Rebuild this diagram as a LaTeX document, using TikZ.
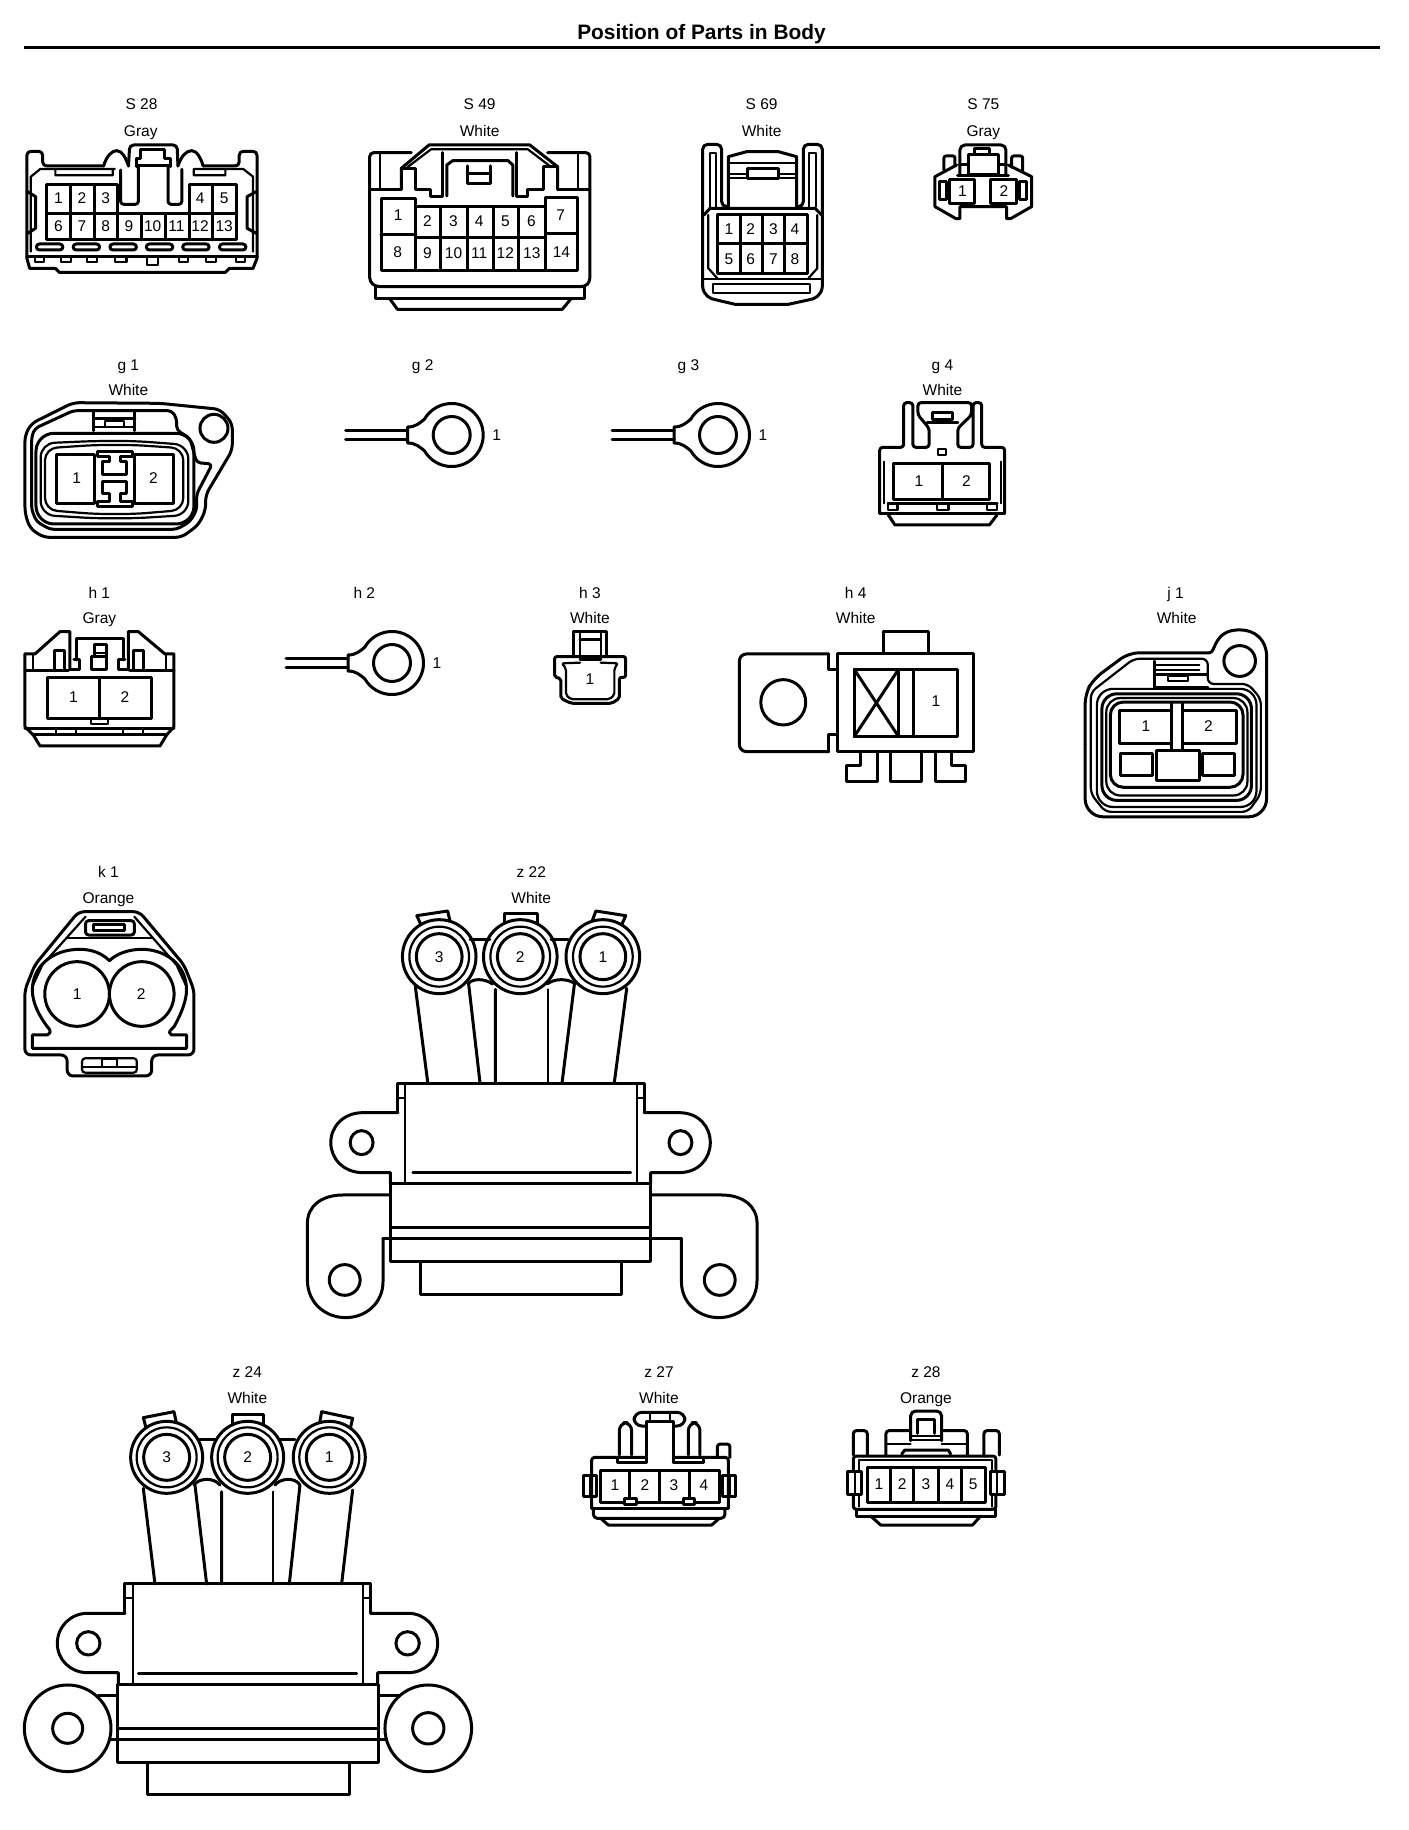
\documentclass[tikz,border=0pt]{standalone}
\usepackage{fontspec}
\setmainfont{Liberation Sans}

\tikzset{
  ln/.style={line width=3pt, line join=round, line cap=round},
  lnt/.style={line width=2.2pt, line join=round, line cap=round},
  lbl/.style={font=\fontsize{15.5}{18}\selectfont, inner sep=0pt, text height=11.2pt, text depth=0pt},
  pin/.style={font=\fontsize{15.5}{18}\selectfont, inner sep=0pt, text height=11.2pt, text depth=0pt},
  % one unit of each group is one pixel of its working sheet
  groupa/.style={shift={(0pt,-60pt)},   x=0.3954pt, y=-0.3333pt},
  groupb/.style={shift={(660pt,-60pt)}, x=0.3333pt, y=-0.3333pt},
  groupc/.style={shift={(0pt,-340pt)},  x=0.3333pt, y=-0.3333pt},
  groupd/.style={shift={(520pt,-340pt)},x=0.5102pt, y=-0.3333pt},
  groupe/.style={shift={(0pt,-850pt)},  x=0.4974pt, y=-0.3333pt},
  groupf/.style={shift={(0pt,-1350pt)}, x=0.3333pt, y=-0.3333pt},
  groupg/.style={shift={(560pt,-1350pt)},x=0.3333pt, y=-0.3333pt},
  groupj/.style={shift={(1070pt,-620pt)},x=0.336pt, y=-0.328pt},
}

\begin{document}
\begin{tikzpicture}

\useasboundingbox (0pt,0pt) rectangle (1408pt,-1830pt);

% Heading
\node (heading) [font=\fontsize{20.9}{24}\selectfont\bfseries, inner sep=0pt] at (701.5pt,-34.5pt) {Position of Parts in Body};
\coordinate (ruleL) at (24pt,-47.5pt);
\coordinate (ruleR) at (1380pt,-47.5pt);
\draw [line width=3.4pt] (ruleL) -- (ruleR);

\begin{scope}[groupa]
% S 28
\node (s28id) [lbl] at (358,132) {S 28};
\node (s28col) [lbl] at (356,212) {Gray};
\draw [ln, rounded corners=4pt] (68,595) -- (68,274) -- (108,274) -- (108,318) -- (262,318);
\draw [ln] (262,318) .. controls (270,285) and (285,272) .. (295,272) .. controls (310,272) and (318,295) .. (325,318);
\draw [ln, rounded corners=4pt] (325,318) -- (328,255) -- (448,255) -- (450,318);
\draw [ln] (450,318) .. controls (458,290) and (470,272) .. (485,272) .. controls (498,272) and (508,295) .. (514,318);
\draw [ln, rounded corners=4pt] (514,318) -- (605,318) -- (605,274) -- (650,274) -- (650,595);
\draw [lnt] (78,575) -- (78,350) -- (102,327) -- (140,327) (290,327) -- (140,327) -- (140,346) -- (285,346) -- (285,327);
\draw [lnt] (640,575) -- (640,350) -- (615,327) -- (490,327) -- (490,346) -- (570,346) -- (570,327);
\draw [ln] (345,320) -- (345,297) -- (355,297) -- (355,270) -- (415,270) -- (415,297) -- (430,297) -- (430,320);
\draw [ln, rounded corners=3pt] (305,330) -- (305,433) -- (350,433) -- (350,318);
\draw [ln, rounded corners=3pt] (425,318) -- (425,433) -- (460,433) -- (460,328);
\draw [ln] (345,318) -- (430,318);
\draw [ln] (298,460) -- (298,375) -- (118,375) -- (118,540) -- (597,540) -- (597,375) -- (478,375) -- (478,460);
\draw [ln] (118,460) -- (597,460);
\foreach \x in {178,238} \draw [ln] (\x,375) -- (\x,540);
\foreach \x in {298,358,418} \draw [ln] (\x,460) -- (\x,540);
\foreach \x in {478,538} \draw [ln] (\x,375) -- (\x,540);
\foreach \n/\x/\y in {1/148/413,2/207/413,3/267/413,4/506/413,5/567/413,6/148/497,7/207/497,8/267/497,9/326/497,10/386/497,11/446/497,12/506/497,13/567/497}
  \node (s28p\n) [pin] at (\x,\y) {\n};
\foreach \x in {92,185,278,370,462,555}
  \draw [ln, rounded corners=3pt] (\x,552) rectangle (\x+67,570);
\draw [ln] (70,395) -- (90,410) -- (90,505) -- (70,520);
\draw [ln] (648,395) -- (625,410) -- (625,505) -- (648,520);
\draw [ln] (68,590) -- (650,590);
\draw [ln] (68,595) -- (75,625) -- (140,625) -- (150,637) -- (570,637) -- (580,625) -- (640,625) -- (650,595);
\foreach \x/\w in {88/24,155/25,220/25,290/30,452/23,520/27,597/23}
  \draw [lnt] (\x,592) rectangle (\x+\w,607);
\draw [lnt] (372,592) rectangle (400,615);

% S 49
\node (s49id) [lbl] at (1213,132) {S 49};
\node (s49col) [lbl] at (1213,212) {White};
\draw [ln, rounded corners=4pt] (1040,278) -- (935,278) -- (935,665) -- (950,680) -- (1480,680) -- (1492,665) -- (1492,278) -- (1385,278);
\draw [ln] (1015,388) -- (1015,325) -- (1085,255) -- (1340,255) -- (1410,320) -- (1410,388);
\draw [lnt] (1030,322) -- (1090,268) -- (1335,268) -- (1395,322);
\draw [ln] (1015,325) -- (1050,325) -- (1050,388) -- (1090,388) -- (1090,410) -- (1120,410) -- (1120,278);
\draw [ln] (1410,320) -- (1375,320) -- (1375,388) -- (1335,388) -- (1335,410) -- (1305,410) -- (1305,278);
\draw [ln] (1130,408) -- (1130,315) -- (1145,302) -- (1285,302) -- (1297,315) -- (1297,408);
\draw [ln] (1183,318) -- (1183,370) -- (1240,370) -- (1240,318) (1183,340) -- (1240,340);
\draw [lnt] (962,280) -- (962,388) (1462,280) -- (1462,388);
\draw [ln] (935,388) -- (1015,388) (1410,388) -- (1492,388);
\draw [ln] (964,415) -- (1052,415) -- (1052,440) -- (1380,440) -- (1380,412) -- (1460,412) -- (1460,632) -- (964,632) -- cycle;
\draw [ln] (964,525) -- (1052,525) (1052,532) -- (1380,532) (1380,522) -- (1460,522);
\foreach \x in {1052,1115,1183,1248,1312,1380} \draw [ln] (\x,440) -- (\x,632);
\foreach \n/\x/\y in {1/1007/465,2/1081/483,3/1147/483,4/1212/483,5/1278/483,6/1344/483,7/1418/465,8/1006/577,9/1081/580,10/1147/580,11/1212/580,12/1278/580,13/1345/580,14/1420/577}
  \node (s49p\n) [pin] at (\x,\y) {\n};
\draw [ln] (950,680) -- (950,715) -- (1478,715) -- (1478,680);
\draw [ln] (985,715) -- (1005,748) -- (1422,748) -- (1445,715);
\end{scope}

\begin{scope}[groupb]
% S 69
\node (s69id) [lbl] at (305,132) {S 69};
\node (s69col) [lbl] at (305,212) {White};
\draw [ln, rounded corners=5pt] (205,440) -- (185,440) -- (185,253) -- (128,253) -- (128,680);
\draw [ln, rounded corners=5pt] (410,440) -- (430,440) -- (430,253) -- (487,253) -- (487,680);
\draw [ln] (128,680) .. controls (130,705) and (150,718) .. (170,720) -- (225,733) -- (385,733) -- (445,720) .. controls (465,718) and (485,705) .. (487,680);
\draw [lnt] (150,440) -- (150,278) -- (168,278) -- (168,440);
\draw [lnt] (447,440) -- (447,278) -- (467,278) -- (467,440);
\draw [ln] (205,440) -- (205,290) -- (260,275) -- (355,275) -- (410,290) -- (410,440);
\draw [lnt] (205,310) -- (410,310) (205,342) -- (262,342) (355,342) -- (410,342) (205,354) -- (262,354) (355,354) -- (410,354);
\draw [ln] (262,325) rectangle (355,355);
\draw [ln] (132,465) -- (150,445) -- (465,445) -- (485,465);
\draw [lnt] (145,465) -- (145,625) -- (172,655) (472,465) -- (472,625) -- (445,655);
\draw [ln] (172,465) rectangle (442,640);
\draw [ln] (172,550) -- (442,550);
\foreach \x in {240,308,375} \draw [ln] (\x,465) -- (\x,640);
\foreach \n/\x/\y in {1/207/507,2/272/507,3/340/507,4/405/507,5/207/597,6/272/597,7/340/597,8/405/597}
  \node (s69p\n) [pin] at (\x,\y) {\n};
\draw [lnt] (128,658) -- (487,658);
\draw [lnt] (160,672) rectangle (450,698);

% S 75
\node (s75id) [lbl] at (970,132) {S 75};
\node (s75col) [lbl] at (970,212) {Gray};
\draw [ln, rounded corners=2pt] (852,330) -- (852,288) -- (885,288) -- (885,318);
\draw [ln, rounded corners=2pt] (1055,322) -- (1055,288) -- (1088,288) -- (1088,332);
\draw [ln] (890,315) -- (825,350) -- (825,440) -- (888,476) -- (900,476) -- (900,440) -- (1040,440) -- (1040,476) -- (1052,476) -- (1115,440) -- (1115,350) -- (1045,315);
\draw [ln, rounded corners=5pt] (900,345) -- (900,255) -- (1038,255) -- (1038,345);
\draw [ln] (925,285) rectangle (1015,345);
\draw [ln] (945,265) rectangle (990,285);
\draw [ln] (900,315) -- (925,315) (1015,315) -- (1038,315) (893,347) -- (1045,347);
\draw [ln] (870,358) rectangle (945,430);
\draw [ln] (993,358) rectangle (1070,430);
\draw [ln] (840,365) rectangle (860,420);
\draw [ln] (1080,365) rectangle (1100,420);
\node (s75p1) [pin] at (907,393) {1};
\node (s75p2) [pin] at (1032,393) {2};
\end{scope}

% Ring terminals
\foreach \tag/\tx/\ty in {gtwo/451.7/435,gthree/718/435,htwo/392/663}
{
\begin{scope}[shift={(\tx pt,-\ty pt)}, x=1pt, y=1pt]
\draw [ln] (150:31.5) arc (150:-150:31.5);
\draw [ln] (0,0) circle (18.5);
\draw [ln] (150:31.5) .. controls (-32,12) and (-36,8) .. (-44,8) -- (-44,-8) .. controls (-36,-8) and (-32,-12) .. (210:31.5);
\draw [ln] (-106,4.7) -- (-44,4.7) (-106,-4.7) -- (-44,-4.7);
\node (\tag pin) [pin] at (45,0) {1};
\end{scope}
}

\begin{scope}[groupc]
\node (g1id) [lbl] at (385,75) {g 1};
\node (g1col) [lbl] at (385,150) {White};
\node (g2id) [lbl] at (1268,75) {g 2};
\node (h1id) [lbl] at (298,758) {h 1};
\node (h1col) [lbl] at (298,835) {Gray};
\node (h2id) [lbl] at (1093,758) {h 2};

% g 1
\draw [ln, rounded corners=6pt] (75,400) -- (75,285) -- (95,250) -- (220,188) -- (480,190) -- (660,208) -- (697,250) -- (697,330) -- (617,465) -- (617,510) -- (595,555) -- (545,592) -- (130,592) -- (90,565) -- (75,520) -- cycle;
\draw [ln] (642,265) circle (42);
\draw [ln, rounded corners=4pt] (95,400) -- (95,290) -- (105,265) -- (220,212) -- (515,212) -- (530,235) -- (530,270) -- (570,295) -- (590,368) -- (637,372) -- (590,462) -- (590,510) -- (570,545) -- (530,568) -- (150,568) -- (110,545) -- (95,510) -- cycle;
\draw [ln] (282,215) -- (282,272) (405,215) -- (405,272) (282,235) -- (405,235);
\draw [lnt] (315,262) -- (315,242) -- (372,242) -- (372,262) (282,262) -- (405,262);
\draw [ln, rounded corners=18pt] (108,280) rectangle (582,552);
\draw [lnt, rounded corners=14pt] (122,400) -- (122,310) -- (285,303) -- (405,303) -- (565,315) -- (565,525) -- (405,535) -- (285,535) -- (122,525) -- cycle;
\draw [lnt, rounded corners=12pt] (135,400) -- (135,325) -- (285,315) -- (405,315) -- (550,325) -- (550,510) -- (405,522) -- (285,522) -- (135,510) -- cycle;
\draw [ln] (170,345) rectangle (285,490);
\draw [ln] (405,345) rectangle (520,490);
\node (g1p1) [pin] at (230,415) {1};
\node (g1p2) [pin] at (460,415) {2};
\draw [ln] (292,335) -- (397,335) -- (397,350) -- (362,350) -- (362,365) -- (380,365) -- (380,405) -- (308,405) -- (308,365) -- (328,365) -- (328,350) -- (292,350) -- cycle;
\draw [ln] (308,425) -- (380,425) -- (380,462) -- (362,462) -- (362,485) -- (397,485) -- (397,500) -- (292,500) -- (292,485) -- (328,485) -- (328,462) -- (308,462) -- cycle;

% h 1
\draw [ln] (75,942) -- (75,1160) -- (100,1185) -- (120,1218) -- (480,1218) -- (500,1185) -- (522,1160) -- (522,942) -- (495,942) -- (415,875) -- (385,875) -- (385,990);
\draw [ln] (75,942) -- (105,942) -- (180,875) -- (210,875) -- (210,990);
\draw [ln] (75,992) -- (205,992) (390,992) -- (522,992);
\draw [lnt] (100,945) -- (100,990) (497,945) -- (497,990);
\draw [ln] (165,990) -- (165,932) -- (195,932) -- (195,990);
\draw [ln] (400,990) -- (400,932) -- (432,932) -- (432,990);
\draw [ln] (230,960) -- (230,895) -- (370,895) -- (370,960);
\draw [ln] (222,960) -- (240,960) -- (240,990) -- (210,990);
\draw [ln] (375,960) -- (355,960) -- (355,990) -- (385,990);
\draw [ln] (275,990) -- (275,950) -- (320,950) -- (320,990) -- cycle;
\draw [ln] (285,950) -- (285,915) -- (320,915) -- (320,950);
\draw [lnt] (285,938) -- (320,938);
\draw [ln] (143,1012) rectangle (455,1137);
\draw [ln] (300,1012) -- (300,1137);
\node (h1p1) [pin] at (220,1072) {1};
\node (h1p2) [pin] at (375,1072) {2};
\draw [lnt] (272,1137) rectangle (325,1152);
\draw [ln] (75,1165) -- (522,1165);
\draw [ln] (98,1185) -- (500,1185);
\foreach \x in {168,228,370,430} \draw [lnt] (\x,1165) -- (\x,1185);
\end{scope}

\begin{scope}[groupd]
\node (g3id) [lbl] at (330,75) {g 3};
\node (g4id) [lbl] at (828,75) {g 4};
\node (g4col) [lbl] at (828,150) {White};
\node (h3id) [lbl] at (137,758) {h 3};
\node (h3col) [lbl] at (137,835) {White};
\node (h4id) [lbl] at (658,758) {h 4};
\node (h4col) [lbl] at (658,835) {White};
\node (j1id) [lbl] at (1285,758) {j 1};
\node (j1col) [lbl] at (1287,835) {White};

% g 4
\draw [ln, rounded corners=3pt] (705,520) -- (705,322) -- (752,322) -- (752,188) -- (770,188) -- (770,322) -- (802,322) -- (802,265) -- (780,225) -- (780,188) -- (885,188) -- (885,225) -- (858,265) -- (858,322) -- (888,322) -- (888,188) -- (905,188) -- (905,322) -- (950,322) -- (950,520);
\draw [ln] (808,218) rectangle (848,240);
\draw [ln] (798,248) -- (858,248);
\draw [lnt] (820,326) rectangle (835,345);
\draw [ln] (733,370) rectangle (920,480);
\draw [ln] (828,370) -- (828,480);
\node (g4p1) [pin] at (782,423) {1};
\node (g4p2) [pin] at (875,423) {2};
\draw [lnt] (714,365) -- (714,490) (943,365) -- (943,490);
\draw [ln] (722,490) -- (935,490);
\draw [lnt] (722,490) rectangle (740,510) (818,490) rectangle (840,510) (915,490) rectangle (935,510);
\draw [ln] (705,520) -- (950,520);
\draw [ln] (722,525) -- (735,555) -- (920,555) -- (935,525);

% h 3
\draw [ln] (105,950) -- (105,875) -- (170,875) -- (170,950);
\draw [lnt] (118,880) -- (118,958) (158,880) -- (158,958);
\draw [ln] (118,900) -- (158,900);
\draw [ln] (118,958) -- (158,958);
\draw [ln, rounded corners=2pt] (68,950) -- (68,1012) -- (80,1015) -- (80,1075) -- (100,1090) -- (180,1090) -- (195,1075) -- (195,1012) -- (207,1012) -- (207,950) -- cycle;
\draw [lnt, rounded corners=2pt] (90,1030) -- (90,985) -- (82,970) -- (118,968);
\draw [lnt, rounded corners=2pt] (158,968) -- (192,970) -- (185,985) -- (185,1065) -- (175,1078) -- (100,1078) -- (90,1065) -- (90,1030);
\node (h3p1) [pin] at (137,1017) {1};

% h 4
\draw [ln] (712,940) -- (712,875) -- (800,875) -- (800,940);
\draw [ln] (622,942) rectangle (888,1235);
\draw [ln, rounded corners=7pt] (605,942) -- (430,942) -- (430,1235) -- (605,1235);
\draw [ln] (605,942) -- (605,988) -- (622,988) (605,1235) -- (605,1185) -- (622,1185);
\draw [ln] (516,1087) circle [x radius=44, y radius=68];
\draw [ln] (655,988) rectangle (858,1190);
\draw [ln] (655,988) -- (742,1190) (742,988) -- (655,1190);
\draw [ln] (742,988) -- (742,1190) (772,988) -- (772,1190);
\node (h4p1) [pin] at (815,1083) {1};
\draw [ln] (668,1235) -- (668,1277) -- (640,1277) -- (640,1325) -- (700,1325) -- (700,1235);
\draw [ln] (727,1235) -- (727,1325) -- (787,1325) -- (787,1235);
\draw [ln] (815,1235) -- (815,1325) -- (873,1325) -- (873,1277) -- (845,1277) -- (845,1235);
\end{scope}

\begin{scope}[groupj]
% j 1
\draw [ln, rounded corners=10pt] (45,380) -- (45,225) -- (70,180) -- (175,100) -- (415,100);
\draw [ln] (415,100) .. controls (435,100) and (425,30) .. (505,30) .. controls (550,30) and (585,60) .. (585,110);
\draw [ln, rounded corners=18pt] (585,110) -- (585,600) -- (45,600) -- (45,380);
\draw [ln] (505,125) circle (47);
\draw [lnt, rounded corners=6pt] (62,380) -- (62,220) -- (190,118) -- (410,118) -- (410,195) -- (530,195) -- (568,240) -- (568,530) -- (530,585) -- (105,585) -- (62,530) -- cycle;
\draw [ln] (250,125) -- (250,205) -- (410,205);
\draw [lnt] (250,138) -- (385,138) (250,152) -- (385,152) (250,166) -- (410,166);
\draw [lnt] (292,187) -- (292,170) -- (350,170) -- (350,187) -- cycle;
\draw [lnt, rounded corners=16pt] (80,210) rectangle (555,570);
\draw [ln, rounded corners=15pt] (95,225) rectangle (540,550);
\draw [lnt, rounded corners=14pt] (108,238) rectangle (528,535);
\draw [ln, rounded corners=13pt] (120,250) rectangle (515,510);
\draw [ln] (147,275) rectangle (302,375);
\draw [ln] (335,275) rectangle (495,375);
\draw [ln] (302,255) -- (302,395) (335,255) -- (335,395);
\node (j1p1) [pin] at (226,323) {1};
\node (j1p2) [pin] at (412,323) {2};
\draw [ln, fill=white] (150,408) rectangle (245,475);
\draw [ln, fill=white] (258,398) rectangle (385,488);
\draw [ln, fill=white] (395,408) rectangle (490,475);
\end{scope}

\begin{scope}[groupe]
% k 1
\node (k1id) [lbl] at (218,65) {k 1};
\node (k1col) [lbl] at (218,143) {Orange};
\draw [ln, rounded corners=6pt] (50,615) -- (50,420) -- (70,345) -- (158,185) -- (280,185) -- (370,345) -- (390,420) -- (390,615) -- (305,615) -- (305,678) -- (135,678) -- (135,615) -- cycle;
\draw [lnt] (135,265) -- (305,265);
\draw [lnt] (65,410) -- (85,345) -- (172,200) (375,410) -- (355,345) -- (270,200);
\draw [ln, rounded corners=3pt] (172,212) rectangle (270,255);
\draw [ln] (188,222) rectangle (250,240);
\draw [ln] (65,595) -- (375,595) -- (375,555) -- (345,555) .. controls (335,545) and (345,540) .. (350,530) .. controls (365,490) and (375,450) .. (375,420) .. controls (375,340) and (330,298) .. (285,298) .. controls (260,298) and (235,310) .. (220,332) .. controls (205,310) and (185,298) .. (160,298) .. controls (105,298) and (65,350) .. (65,420) .. controls (65,460) and (80,500) .. (95,530) .. controls (105,545) and (100,550) .. (95,555) -- (65,555) -- cycle;
\draw [ln] (155,432) circle [x radius=65, y radius=97];
\draw [ln] (285,432) circle [x radius=65, y radius=97];
\node (k1p1) [pin] at (155,432) {1};
\node (k1p2) [pin] at (284,432) {2};
\draw [lnt, rounded corners=3pt] (165,668) -- (165,625) -- (275,625) -- (275,668) -- cycle;
\draw [lnt] (165,650) -- (275,650);
\draw [lnt] (205,650) -- (205,628) -- (235,628) -- (235,650);

% z 22
\node (z22id) [lbl] at (1068,65) {z 22};
\node (z22col) [lbl] at (1068,143) {White};
\draw [ln] (848,230) -- (838,197) -- (900,183) -- (905,215);
\draw [ln] (1015,220) -- (1015,190) -- (1080,190) -- (1080,220);
\draw [ln] (1190,215) -- (1198,183) -- (1258,197) -- (1248,230);
\foreach \rx/\rn in {883/3,1046/2,1212/1}
{
\draw [ln, fill=white] (\rx,320) circle [x radius=74, y radius=111];
\draw [lnt] (\rx,320) circle [x radius=60, y radius=90];
\draw [ln] (\rx,320) circle [x radius=46, y radius=69];
\node (z22p\rn) [pin] at (\rx,320) {\rn};
}
\draw [ln] (945,268) -- (985,268) (1108,268) -- (1142,268);
\draw [ln] (942,400) .. controls (950,385) and (975,385) .. (990,402);
\draw [ln] (1100,402) .. controls (1115,385) and (1140,385) .. (1155,400);
\draw [ln] (835,410) -- (860,698) (942,400) -- (965,698) (996,418) -- (996,698);
\draw [lnt] (1102,418) -- (1102,698);
\draw [ln] (1155,400) -- (1130,698) (1260,415) -- (1235,698);
\draw [ln] (800,785) -- (800,700) -- (1295,700) -- (1295,785);
\draw [ln] (800,788) -- (730,788) .. controls (690,788) and (665,830) .. (665,878) .. controls (665,925) and (690,968) .. (730,968) -- (785,968) -- (785,1000);
\draw [ln] (1295,788) -- (1365,788) .. controls (1405,788) and (1428,830) .. (1428,878) .. controls (1428,925) and (1405,968) .. (1365,968) -- (1308,968) -- (1308,1000);
\draw [lnt] (815,705) -- (815,998) (1280,705) -- (1280,998) (800,745) -- (815,745) (1280,745) -- (1295,745);
\draw [ln] (727,878) circle [x radius=23, y radius=36];
\draw [ln] (1368,878) circle [x radius=23, y radius=36];
\draw [ln] (830,968) -- (1268,968);
\draw [ln] (785,1000) rectangle (1308,1235);
\draw [line width=3.6pt] (785,1133) -- (1308,1133);
\draw [ln] (770,1165) -- (1370,1165);
\draw [ln] (785,1035) -- (690,1035) .. controls (645,1035) and (618,1070) .. (618,1120) -- (618,1290) .. controls (618,1360) and (655,1403) .. (695,1403) .. controls (735,1403) and (770,1360) .. (770,1295) -- (770,1165);
\draw [ln] (1308,1035) -- (1450,1035) .. controls (1495,1035) and (1522,1070) .. (1522,1120) -- (1522,1290) .. controls (1522,1360) and (1485,1403) .. (1445,1403) .. controls (1405,1403) and (1370,1360) .. (1370,1295) -- (1370,1165);
\draw [ln] (693,1290) circle [x radius=31, y radius=46];
\draw [ln] (1447,1290) circle [x radius=31, y radius=46];
\draw [ln] (845,1235) -- (845,1335) -- (1250,1335) -- (1250,1235);
\end{scope}

\begin{scope}[groupf]
% z 24
\node (z24id) [lbl] at (742,65) {z 24};
\node (z24col) [lbl] at (742,143) {White};
\draw [ln] (440,240) -- (430,203) -- (522,185) -- (530,222);
\draw [ln] (698,232) -- (698,192) -- (792,192) -- (792,232);
\draw [ln] (958,225) -- (965,185) -- (1058,205) -- (1050,240);
\foreach \rx/\rn in {500/3,743/2,988/1}
{
\draw [ln, fill=white] (\rx,322) circle (108);
\draw [lnt] (\rx,322) circle (90);
\draw [ln] (\rx,322) circle (69);
\node (z24p\rn) [pin] at (\rx,322) {\rn};
}
\draw [ln] (595,268) -- (645,268) (838,268) -- (885,268);
\draw [ln] (582,405) .. controls (595,385) and (640,380) .. (660,405);
\draw [ln] (825,405) .. controls (840,385) and (885,380) .. (900,405);
\draw [ln] (430,415) -- (465,702) (585,405) -- (620,702) (665,425) -- (665,702);
\draw [lnt] (820,425) -- (820,702);
\draw [ln] (900,405) -- (868,702) (1058,420) -- (1025,702);
\draw [ln] (375,790) -- (375,702) -- (1113,702) -- (1113,790);
\draw [ln] (375,790) -- (262,790) .. controls (212,790) and (172,830) .. (172,880) .. controls (172,930) and (212,968) .. (262,968) -- (355,968) -- (355,1003);
\draw [ln] (1113,790) -- (1225,790) .. controls (1275,790) and (1313,830) .. (1313,880) .. controls (1313,930) and (1275,968) .. (1225,968) -- (1133,968) -- (1133,1003);
\draw [lnt] (398,705) -- (398,1003) (1090,705) -- (1090,1003) (375,745) -- (398,745) (1090,745) -- (1113,745);
\draw [ln] (265,880) circle (35);
\draw [ln] (1223,880) circle (35);
\draw [ln] (415,970) -- (1070,970);
\draw [ln] (353,1003) rectangle (1135,1237);
\draw [line width=3.6pt] (353,1136) -- (1135,1136);
\draw [ln] (332,1168) -- (1155,1168);
\draw [ln] (295,1037) -- (353,1037) (1135,1037) -- (1200,1037);
\draw [ln, fill=white] (203,1135) circle (130);
\draw [ln] (203,1135) circle (45);
\draw [ln, fill=white] (1285,1135) circle (130);
\draw [ln] (1285,1135) circle (47);
\draw [ln] (443,1237) -- (443,1335) -- (1048,1335) -- (1048,1237);
\end{scope}

\begin{scope}[groupg]
% z 27
\node (z27id) [lbl] at (297,65) {z 27};
\node (z27col) [lbl] at (297,143) {White};
\draw [ln, rounded corners=8pt] (178,315) -- (178,218) -- (215,218) -- (215,315);
\draw [ln, rounded corners=8pt] (385,315) -- (385,218) -- (420,218) -- (420,315);
\draw [ln, rounded corners=3pt] (472,320) -- (472,282) -- (510,282) -- (510,322);
\draw [ln, rounded corners=8pt, fill=white] (222,187) rectangle (375,228);
\draw [ln, fill=white] (258,338) -- (258,215) -- (340,215) -- (340,338);
\draw [lnt] (270,187) -- (270,208) (330,187) -- (330,208);
\draw [ln, rounded corners=3pt] (95,475) -- (95,322) -- (258,322) (340,322) -- (505,322) -- (505,475);
\draw [ln] (172,338) -- (258,338) (340,338) -- (430,338) (172,322) -- (172,338) (430,322) -- (430,338);
\draw [ln] (120,362) rectangle (480,458);
\foreach \x in {208,300,390} \draw [ln] (\x,362) -- (\x,458);
\foreach \n/\x in {1/165,2/255,3/342,4/432}
  \node (z27p\n) [pin] at (\x,405) {\n};
\draw [ln] (70,375) rectangle (110,440) (90,375) -- (90,440);
\draw [ln] (488,375) rectangle (528,440) (510,375) -- (510,440);
\draw [ln, fill=white] (192,445) rectangle (228,462);
\draw [ln, fill=white] (370,445) rectangle (405,462);
\draw [ln] (95,475) -- (505,475);
\draw [ln, rounded corners=4pt] (100,475) -- (100,505) -- (495,505) -- (495,475);
\draw [ln] (125,508) -- (145,525) -- (455,525) -- (475,508);

% z 28
\node (z28id) [lbl] at (1098,65) {z 28};
\node (z28col) [lbl] at (1098,143) {Orange};
\draw [ln, rounded corners=3pt] (880,315) -- (880,242) -- (922,242) -- (922,315);
\draw [ln, rounded corners=3pt] (1272,315) -- (1272,242) -- (1318,242) -- (1318,315);
\draw [ln, rounded corners=3pt] (978,315) -- (978,242) -- (1222,242) -- (1222,315);
\draw [lnt] (978,283) -- (1052,283) (1145,283) -- (1222,283);
\draw [ln] (1025,312) -- (1035,300) -- (1165,300) -- (1172,312);
\draw [ln, rounded corners=5pt, fill=white] (1052,272) -- (1052,183) -- (1145,183) -- (1145,272);
\draw [ln] (1072,250) -- (1072,208) -- (1125,208) -- (1125,250);
\draw [lnt] (1052,258) -- (1145,258) (1052,270) -- (1145,270);
\draw [ln, rounded corners=3pt] (880,478) -- (880,318) -- (1308,318) -- (1308,478) -- cycle;
\draw [lnt] (898,470) -- (898,330) -- (1295,330) -- (1295,470);
\draw [ln] (922,352) rectangle (1278,458);
\foreach \x in {992,1062,1135,1205} \draw [ln] (\x,352) -- (\x,458);
\foreach \n/\x in {1/957,2/1027,3/1098,4/1170,5/1240}
  \node (z28p\n) [pin] at (\x,402) {\n};
\draw [ln, fill=white] (862,365) rectangle (905,432);
\draw [lnt] (885,365) -- (885,432);
\draw [ln, fill=white] (1292,365) rectangle (1335,432);
\draw [lnt] (1312,365) -- (1312,432);
\draw [ln] (890,478) -- (890,498) -- (1308,498) -- (1308,478);
\draw [ln] (932,498) -- (962,525) -- (1238,525) -- (1262,498);
\end{scope}

\end{tikzpicture}
\end{document}
